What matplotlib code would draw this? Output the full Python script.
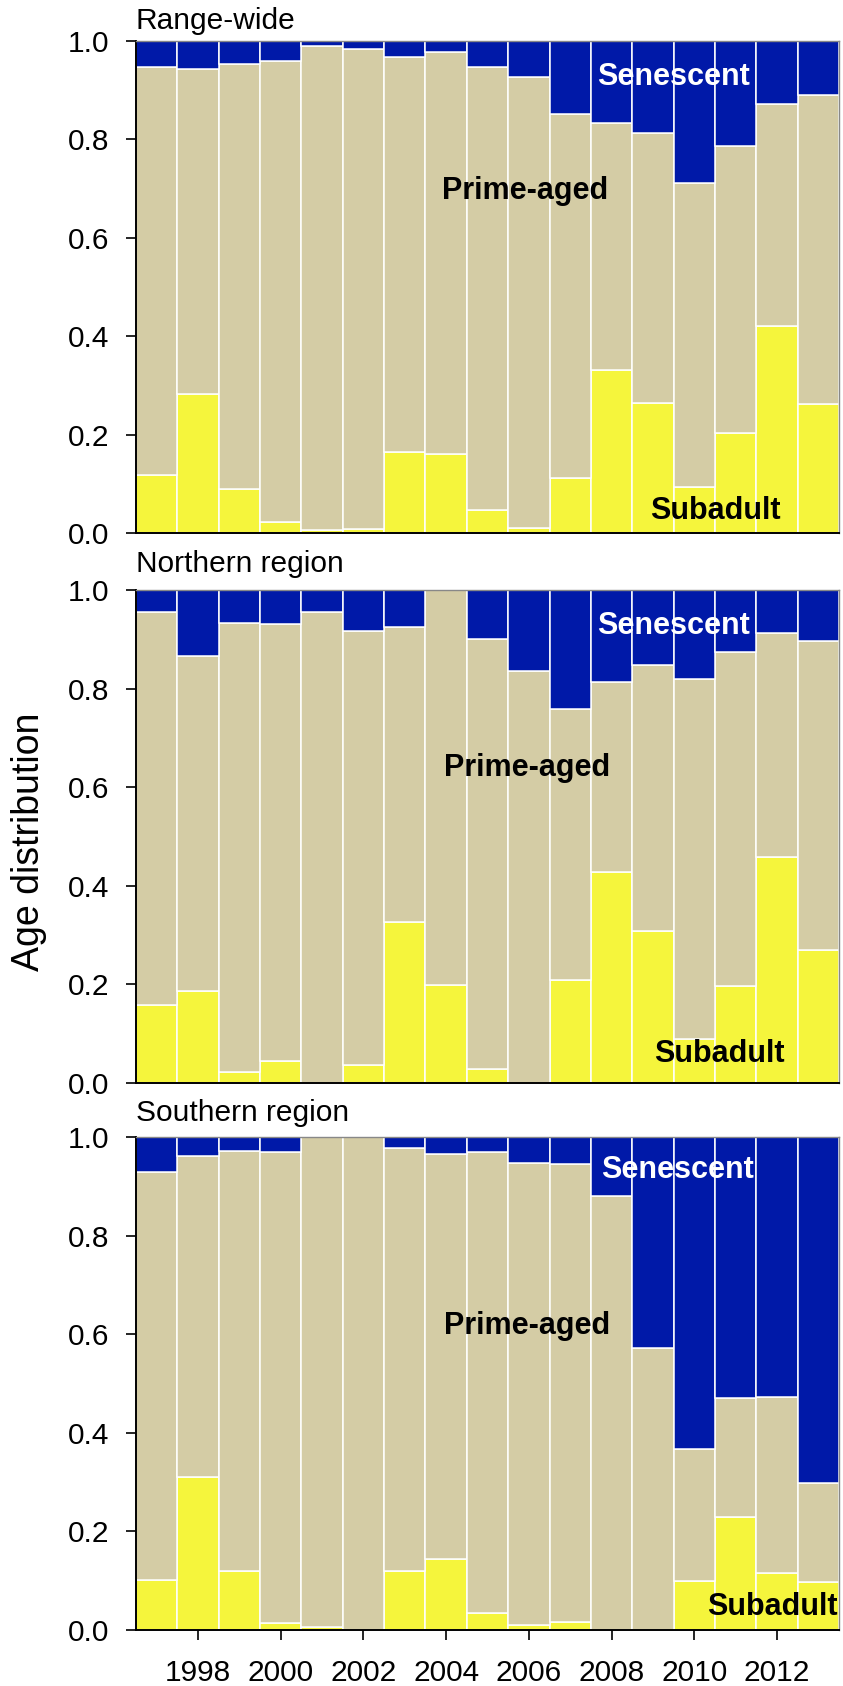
import matplotlib
matplotlib.use("Agg")
import matplotlib.pyplot as plt
import numpy as np

plt.rcParams['font.family'] = ['Liberation Sans', 'DejaVu Sans']

years = list(range(1997, 2014))

# Cumulative boundaries: subadult share, and subadult+prime share
range_sub = [0.118, 0.283, 0.089, 0.023, 0.006, 0.008, 0.164, 0.161, 0.047, 0.011,
             0.111, 0.331, 0.264, 0.094, 0.204, 0.420, 0.262]
range_cum = [0.947, 0.943, 0.954, 0.959, 0.990, 0.983, 0.967, 0.977, 0.947, 0.926,
             0.852, 0.833, 0.813, 0.711, 0.786, 0.871, 0.890]

north_sub = [0.158, 0.187, 0.023, 0.045, 0.000, 0.036, 0.327, 0.198, 0.029, 0.000,
             0.208, 0.428, 0.309, 0.090, 0.196, 0.459, 0.270]
north_cum = [0.955, 0.866, 0.934, 0.931, 0.956, 0.917, 0.925, 1.000, 0.900, 0.835,
             0.758, 0.813, 0.848, 0.819, 0.874, 0.913, 0.896]

south_sub = [0.101, 0.310, 0.119, 0.015, 0.007, 0.000, 0.119, 0.144, 0.034, 0.011,
             0.017, 0.000, 0.000, 0.099, 0.230, 0.116, 0.098]
south_cum = [0.928, 0.961, 0.971, 0.969, 1.000, 1.000, 0.978, 0.966, 0.970, 0.947,
             0.945, 0.881, 0.573, 0.367, 0.471, 0.472, 0.299]

panel_titles = ["Range-wide", "Northern region", "Southern region"]
xtick_years = [1998, 2000, 2002, 2004, 2006, 2008, 2010, 2012]
yticks = [0.0, 0.2, 0.4, 0.6, 0.8, 1.0]

c_sub = '#F5F53C'
c_prime = '#D4CCA5'
c_sen = '#0019A8'

W, H = 843, 1686
fig = plt.figure(figsize=(W / 100, H / 100), dpi=100)

# (top px, bottom px, title offset px)
layout = [(41, 533, 12), (590, 1083, 18), (1137, 1630, 16)]
left_px, right_px = 136, 839

label_pos = [
    ((2009.5, 0.927), (2005.9, 0.695), (2010.5, 0.045)),
    ((2009.5, 0.927), (2005.95, 0.638), (2010.6, 0.059)),
    ((2009.6, 0.933), (2005.95, 0.616), (2011.9, 0.046)),
]

data = [(range_sub, range_cum), (north_sub, north_cum), (south_sub, south_cum)]

for i, ((top, bot, toff), (sub, cum)) in enumerate(zip(layout, data)):
    ax = fig.add_axes([left_px / W, 1 - bot / H, (right_px - left_px) / W, (bot - top) / H])
    sub = np.array(sub)
    cum = np.array(cum)
    prime = cum - sub
    sen = 1.0 - cum
    kw = dict(width=1.0, edgecolor='white', linewidth=1.1)
    ax.bar(years, sub, color=c_sub, **kw)
    ax.bar(years, prime, bottom=sub, color=c_prime, **kw)
    ax.bar(years, sen, bottom=cum, color=c_sen, **kw)
    ax.set_xlim(1996.5, 2013.5)
    ax.set_ylim(0, 1.0)
    ax.set_yticks(yticks)
    ax.set_yticklabels([f"{v:.1f}" for v in yticks])
    ax.tick_params(axis='y', direction='out', length=7, width=1.2, pad=12, labelsize=21.5)
    for s in ['left', 'bottom']:
        ax.spines[s].set_color('black')
        ax.spines[s].set_linewidth(1.4)
    for s in ['top', 'right']:
        ax.spines[s].set_color('#888888')
        ax.spines[s].set_linewidth(1.0)
    if i == 2:
        ax.set_xticks(xtick_years)
        ax.set_xticklabels([str(y) for y in xtick_years])
        ax.tick_params(axis='x', direction='out', length=7, width=1.2, pad=14, labelsize=21.5)
    else:
        ax.set_xticks([])
    ax.text(0.0, 1 + toff / (bot - top), panel_titles[i], transform=ax.transAxes,
            ha='left', va='baseline', fontsize=21.5)
    (sx, sy), (px, py), (ux, uy) = label_pos[i]
    ax.text(sx, sy, "Senescent", color='white', fontweight='bold', fontsize=22,
            ha='center', va='center')
    ax.text(px, py, "Prime-aged", color='black', fontweight='bold', fontsize=22,
            ha='center', va='center')
    ax.text(ux, uy, "Subadult", color='black', fontweight='bold', fontsize=22,
            ha='center', va='center')

fig.text(29 / W, 1 - 842 / H, "Age distribution", rotation=90, ha='center', va='center',
         fontsize=27)

fig.savefig("out.png", dpi=100)
